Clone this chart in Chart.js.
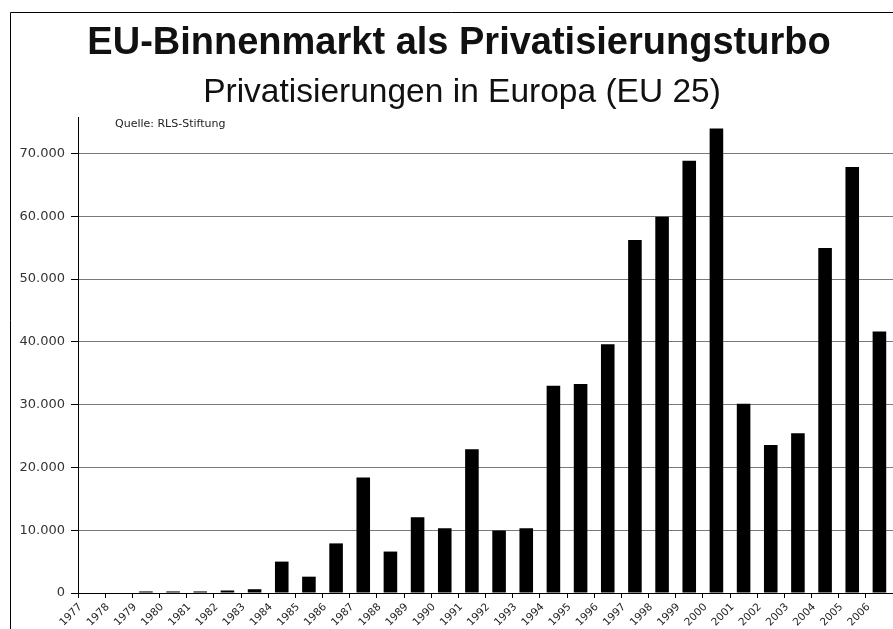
<!DOCTYPE html>
<html>
<head>
<meta charset="utf-8">
<script src="https://cdn.jsdelivr.net/npm/chart.js@4.4.1/dist/chart.umd.min.js"></script>
<style>
  html, body { margin: 0; padding: 0; background: #fff; }
  #wrap { width: 893px; height: 629px; position: relative; }
</style>
</head>
<body>
<div id="wrap"><canvas id="privChart"></canvas></div>
<script>
var years = ["1977", "1978", "1979", "1980", "1981", "1982", "1983", "1984", "1985", "1986",
    "1987", "1988", "1989", "1990", "1991", "1992", "1993", "1994", "1995", "1996",
    "1997", "1998", "1999", "2000", "2001", "2002", "2003", "2004", "2005", "2006"];
var privatisierungen = [0, 0, 250, 250, 250, 400, 600, 5000, 2600, 7900,
    18400, 6600, 12050, 10300, 22900, 9950, 10300, 33000, 33300, 39600,
    56200, 59900, 68850, 73950, 30150, 23550, 25450, 54950, 67850, 41650];
var yTicks = [0, 10000, 20000, 30000, 40000, 50000, 60000, 70000];
var yMax = 75800;
var chartTitle = "EU-Binnenmarkt als Privatisierungsturbo";
var chartSubtitle = "Privatisierungen in Europa (EU 25)";
var sourceNote = "Quelle: RLS-Stiftung";

function fmtDe(v) {
    return String(v).replace(/\B(?=(\d{3})+(?!\d))/g, ".");
}

// frame, headings and source note drawn straight on the canvas
var decoPlugin = {
    id: "deco",
    beforeDraw(chart) {
        var c = chart.ctx;
        c.save();
        c.fillStyle = "#fff";
        c.fillRect(0, 0, chart.width, chart.height);
        c.restore();
    },
    afterDraw(chart) {
        var c = chart.ctx;
        c.save();
        c.strokeStyle = "#000";
        c.lineWidth = 1;
        c.beginPath();
        c.moveTo(10.5, chart.height);
        c.lineTo(10.5, 12.5);
        c.lineTo(chart.width, 12.5);
        c.stroke();

        c.fillStyle = "#111";
        c.textAlign = "center";
        c.textBaseline = "middle";
        c.font = "bold 38px 'Liberation Sans', Arial, sans-serif";
        c.fillText(chartTitle, 459, 44);
        c.font = "33.5px 'Liberation Sans', Arial, sans-serif";
        c.fillText(chartSubtitle, 462, 93);

        c.textAlign = "left";
        c.font = "11px 'DejaVu Sans', sans-serif";
        c.fillStyle = "#222";
        c.fillText(sourceNote, 115, 124);
        c.restore();
    },
};

var ctx = document.getElementById("privChart");
var myChart = new Chart(ctx, {
    type: "bar",
    data: {
        labels: years,
        datasets: [
            { label: "Privatisierungen", data: privatisierungen, backgroundColor: "#000", borderWidth: 0, categoryPercentage: 1, barPercentage: 0.5 },
        ],
    },
    options: {
        responsive: true,
        maintainAspectRatio: false,
        animation: false,
        layout: { padding: { top: 117, left: 10, right: 0, bottom: 0 } },
        plugins: { legend: { display: false }, tooltip: { enabled: false } },
        scales: {
            x: {
                offset: true,
                grid: { offset: true, drawOnChartArea: false, drawTicks: true, tickLength: 5, tickColor: "#000" },
                border: { color: "#000", width: 1 },
                ticks: {
                    autoSkip: false,
                    maxRotation: 45,
                    minRotation: 45,
                    labelOffset: -11,
                    padding: 3,
                    color: "#222",
                    font: { family: "'DejaVu Sans', sans-serif", size: 10.5 },
                },
                afterFit: function (scale) { scale.height = 36; },
            },
            y: {
                min: 0,
                max: yMax,
                ticks: {
                    stepSize: 10000,
                    padding: 6,
                    color: "#333",
                    font: { family: "'DejaVu Sans', sans-serif", size: 13 },
                    callback: function (value) { return fmtDe(value); },
                },
                afterBuildTicks: function (scale) {
                    scale.ticks = yTicks.map(function (v) { return { value: v }; });
                },
                grid: { color: "#7a7a7a", lineWidth: 1, tickLength: 7, tickColor: "#000" },
                border: { color: "#000", width: 1 },
                afterFit: function (scale) { scale.width = 68; },
            },
        },
    },
    plugins: [decoPlugin],
});
</script>
</body>
</html>
